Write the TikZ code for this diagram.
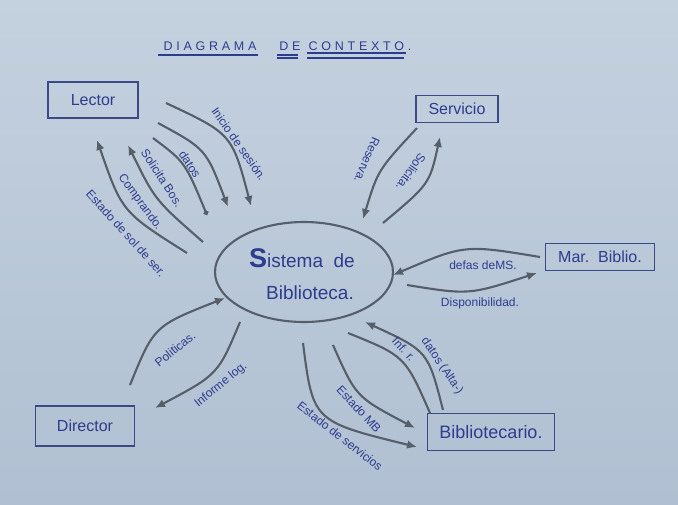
\documentclass[tikz,border=0pt]{standalone}
\usepackage{fontspec}
\setmainfont{Liberation Sans}
\usetikzlibrary{arrows.meta,shapes.geometric}
\definecolor{papertop}{HTML}{C4D1DF}
\definecolor{paperbot}{HTML}{B0C0D2}
\definecolor{ink}{HTML}{2E3C8E}
\definecolor{boxc}{HTML}{3B4A86}
\definecolor{arrowc}{HTML}{565F69}
\begin{document}
\begin{tikzpicture}[x=1pt,y=-1pt,
  flow/.style={draw=arrowc, line width=2.1pt, -{Latex[length=10pt,width=8.5pt]}},
  plainflow/.style={draw=arrowc, line width=2.1pt},
  lbl/.style={text=ink, inner sep=0pt, font=\fontsize{12}{12}\selectfont},
  ent/.style={draw=boxc, line width=1.3pt, text=ink, inner sep=0pt, font=\fontsize{16}{16}\selectfont},
  ttl/.style={text=ink, inner sep=0pt, font=\fontsize{12.5}{12.5}\selectfont\addfontfeature{LetterSpace=30}},
  uline/.style={draw=ink, line width=1.2pt}
]
\useasboundingbox (0,0) rectangle (678,504);
\shade[top color=papertop, bottom color=paperbot] (0,0) rectangle (678,504);

% title
\node[ttl] (t1) at (210,46) {DIAGRAMA};
\node[ttl] (t2) at (290,46) {DE};
\node[ttl] (t3) at (360,46) {CONTEXTO.};
\draw[uline] (158,55) -- (258,55);
\draw[uline] (277,55) -- (298,55);
\draw[uline] (277,58) -- (298,58);
\draw[uline] (307,53) -- (406,53);
\draw[uline] (307,58) -- (404,58);

% entities
\node[ent, minimum width=90pt, minimum height=36pt] (lector) at (93,100) {Lector};
\node[ent, minimum width=82pt, minimum height=27pt] (serv) at (457,109) {Servicio};
\node[ent, minimum width=109pt, minimum height=27pt] (mar) at (600,257) {Mar.\ \ Biblio.};
\node[ent, minimum width=99pt, minimum height=40pt] (dir) at (85,426) {Director};
\node[ent, minimum width=127pt, minimum height=37pt, font=\fontsize{18}{18}\selectfont] (bib) at (491,432) {Bibliotecario.};
\node[ellipse, draw=arrowc, line width=2.1pt, minimum width=178pt, minimum height=100pt, inner sep=0pt] (sys) at (304,272) {};
\node[text=ink, inner sep=0pt, font=\fontsize{19}{19}\selectfont] (sys1) at (302,258) {{\fontsize{27}{27}\selectfont\bfseries S}istema\ \ de};
\node[text=ink, inner sep=0pt, font=\fontsize{19}{19}\selectfont] (sys2) at (310,293) {Biblioteca.};

% Lector arrows
\coordinate (a1s) at (166,103); \coordinate (a1e) at (251,206);
\draw[flow] (a1s) .. controls (232,134) .. (a1e);
\node[lbl, rotate=-55] (l1) at (239,144) {Inicio de sesión.};
\coordinate (a2s) at (158,123); \coordinate (a2e) at (228,207);
\draw[flow] (a2s) .. controls (206,149) .. (a2e);
\node[lbl, rotate=-57] (l2) at (190,164) {datos};
\coordinate (a3s) at (153,138); \coordinate (a3e) at (207,215);
\draw[plainflow, -{Circle[length=5pt]}] (a3s) .. controls (185,162) .. (a3e);
\node[lbl, rotate=-57] (l3) at (162,178) {Solicita Bos.};
\coordinate (a4s) at (203,242); \coordinate (a4e) at (128,145);
\draw[flow] (a4s) .. controls (155,200) .. (a4e);
\node[lbl, rotate=-54] (l4) at (140,202) {Comprando.};
\coordinate (a5s) at (187,253); \coordinate (a5e) at (97,140);
\draw[flow] (a5s) .. controls (122,212) .. (a5e);
\node[lbl, rotate=-48] (l5) at (126,233) {Estado de sol de ser.};

% Servicio arrows
\coordinate (a6s) at (417,128); \coordinate (a6e) at (363,219);
\draw[flow] (a6s) .. controls (378,170) .. (a6e);
\node[lbl, rotate=-113] (l6) at (367,160) {Reserva.};
\coordinate (a7s) at (383,223); \coordinate (a7e) at (440,137);
\draw[flow] (a7s) .. controls (429.5,184) .. (a7e);
\node[lbl, rotate=-125] (l7) at (411,172) {Solicita.};

% Mar. Biblio arrows
\coordinate (a8s) at (540,257); \coordinate (a8e) at (393,275);
\draw[flow] (a8s) .. controls (464.5,244.5) .. (a8e);
\node[lbl] (l8) at (483,265) {defas deMS.};
\coordinate (a9s) at (407,285); \coordinate (a9e) at (537,273);
\draw[flow] (a9s) .. controls (469,295) .. (a9e);
\node[lbl] (l9) at (480,303) {Disponibilidad.};

% Director arrows
\coordinate (a10s) at (130,385); \coordinate (a10e) at (225,298);
\draw[flow] (a10s) .. controls (154,326) .. (a10e);
\node[lbl, rotate=39] (l10) at (175,349) {Politicas.};
\coordinate (a11s) at (240,322); \coordinate (a11e) at (155,408);
\draw[flow] (a11s) .. controls (218,374.5) .. (a11e);
\node[lbl, rotate=39] (l11) at (221,385) {Informe log.};

% Bibliotecario arrows
\coordinate (a12s) at (443,410); \coordinate (a12e) at (365,322);
\draw[flow] (a12s) .. controls (428,351) .. (a12e);
\node[lbl, rotate=-56] (l12) at (442,366) {datos (Alta-)};
\coordinate (a13s) at (348,333); \coordinate (a13e) at (430,413);
\draw[plainflow] (a13s) .. controls (405,356) .. (a13e);
\node[lbl, rotate=-48] (l13) at (404,349) {Inf. r.};
\coordinate (a14s) at (333,345); \coordinate (a14e) at (415,428);
\draw[flow] (a14s) .. controls (356,397) .. (a14e);
\node[lbl, rotate=-47] (l14) at (359,409) {Estado MB};
\coordinate (a15s) at (303,343); \coordinate (a15e) at (417,447);
\draw[flow] (a15s) .. controls (313,421.5) .. (a15e);
\node[lbl, rotate=-38] (l15) at (340,436) {Estado de servicios};
\end{tikzpicture}
\end{document}
